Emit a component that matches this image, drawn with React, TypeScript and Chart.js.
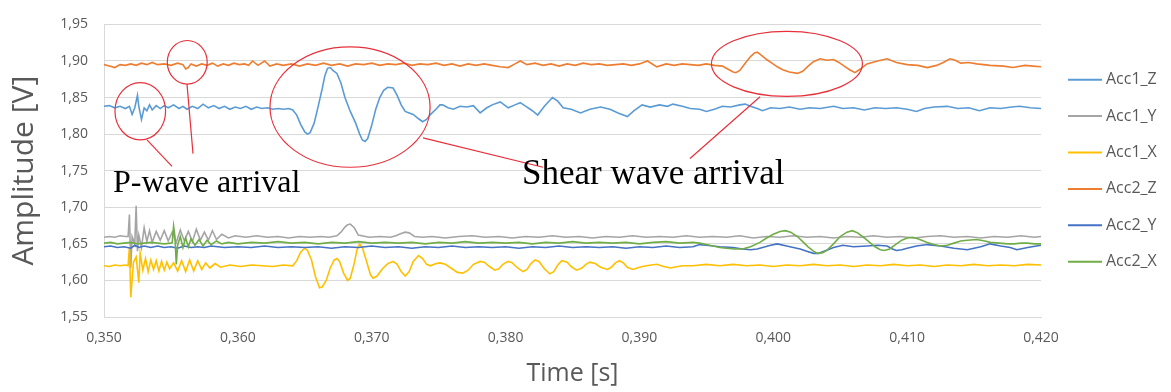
import React, { useEffect, useRef } from 'react';
import { Chart, registerables } from 'chart.js';

Chart.register(...registerables);

// ---------- data ----------
const seriesNames = ['Acc1_Z', 'Acc1_Y', 'Acc1_X', 'Acc2_Z', 'Acc2_Y', 'Acc2_X'];
const seriesColors = ['#5B9BD5', '#A5A5A5', '#FFC000', '#ED7D31', '#4472C4', '#70AD47'];

const xTickMin = 0.35;
const xTickMax = 0.42;
const xTickStep = 0.01;
const yTickMin = 1.55;
const yTickMax = 1.95;
const yTickStep = 0.05;

const acc1ZTime = [0.3500,0.3504,0.3508,0.3512,0.3516,0.3519,0.3521,0.3523,0.3525,0.3526,0.3528,0.3530,0.3532,0.3534,0.3536,0.3539,0.3542,0.3545,0.3548,0.3552,0.3556,0.3559,0.3562,0.3566,0.3570,0.3574,0.3578,0.3582,0.3586,0.3590,0.3594,0.3598,0.3602,0.3606,0.3610,0.3614,0.3618,0.3622,0.3626,0.3630,0.3634,0.3638,0.3641,0.3644,0.3647,0.3650,0.3652,0.3654,0.3657,0.3660,0.3663,0.3665,0.3667,0.3669,0.3671,0.3674,0.3677,0.3680,0.3684,0.3688,0.3691,0.3693,0.3695,0.3697,0.3700,0.3703,0.3706,0.3709,0.3712,0.3716,0.3719,0.3722,0.3725,0.3728,0.3731,0.3735,0.3738,0.3741,0.3744,0.3748,0.3751,0.3753,0.3757,0.3761,0.3766,0.3771,0.3776,0.3781,0.3786,0.3790,0.3796,0.3802,0.3807,0.3811,0.3816,0.3820,0.3824,0.3829,0.3835,0.3839,0.3843,0.3849,0.3856,0.3863,0.3871,0.3878,0.3884,0.3891,0.3896,0.3902,0.3908,0.3915,0.3921,0.3925,0.3932,0.3938,0.3945,0.3950,0.3956,0.3962,0.3968,0.3975,0.3979,0.3983,0.3988,0.3992,0.3998,0.4005,0.4012,0.4020,0.4027,0.4035,0.4045,0.4052,0.4060,0.4068,0.4076,0.4084,0.4092,0.4100,0.4107,0.4113,0.4120,0.4130,0.4138,0.4146,0.4154,0.4162,0.4170,0.4178,0.4184,0.4192,0.4200];
const acc1ZValues = [1.838,1.839,1.836,1.838,1.835,1.838,1.827,1.836,1.853,1.838,1.820,1.836,1.832,1.840,1.833,1.839,1.835,1.839,1.836,1.840,1.835,1.838,1.834,1.838,1.835,1.841,1.836,1.839,1.835,1.838,1.834,1.837,1.835,1.838,1.834,1.837,1.835,1.836,1.834,1.835,1.834,1.835,1.833,1.826,1.813,1.803,1.800,1.802,1.815,1.838,1.862,1.880,1.890,1.891,1.887,1.883,1.870,1.850,1.831,1.815,1.800,1.792,1.790,1.794,1.812,1.834,1.850,1.860,1.864,1.863,1.853,1.840,1.831,1.829,1.827,1.821,1.817,1.820,1.827,1.834,1.840,1.840,1.836,1.834,1.838,1.837,1.839,1.829,1.836,1.840,1.844,1.836,1.840,1.843,1.837,1.832,1.826,1.838,1.850,1.845,1.836,1.834,1.829,1.834,1.837,1.834,1.829,1.824,1.832,1.840,1.837,1.840,1.838,1.841,1.838,1.835,1.834,1.831,1.834,1.838,1.837,1.840,1.841,1.838,1.835,1.832,1.836,1.835,1.837,1.834,1.836,1.835,1.838,1.835,1.836,1.833,1.836,1.835,1.836,1.834,1.831,1.835,1.837,1.838,1.835,1.836,1.832,1.836,1.835,1.837,1.838,1.836,1.835];

const acc1YTime = [0.3500,0.3504,0.3508,0.3512,0.3516,0.3518,0.3519,0.3520,0.3521,0.3523,0.3524,0.3525,0.3526,0.3528,0.3530,0.3532,0.3534,0.3536,0.3539,0.3542,0.3545,0.3548,0.3551,0.3554,0.3557,0.3560,0.3563,0.3566,0.3569,0.3572,0.3575,0.3578,0.3581,0.3584,0.3588,0.3593,0.3598,0.3606,0.3614,0.3622,0.3630,0.3638,0.3646,0.3654,0.3662,0.3668,0.3674,0.3677,0.3680,0.3682,0.3684,0.3687,0.3690,0.3698,0.3706,0.3714,0.3718,0.3722,0.3725,0.3728,0.3732,0.3738,0.3745,0.3755,0.3765,0.3775,0.3785,0.3795,0.3805,0.3815,0.3825,0.3835,0.3845,0.3855,0.3865,0.3875,0.3885,0.3895,0.3905,0.3915,0.3925,0.3935,0.3945,0.3955,0.3965,0.3975,0.3985,0.3995,0.4005,0.4015,0.4025,0.4035,0.4045,0.4055,0.4065,0.4075,0.4085,0.4095,0.4105,0.4115,0.4125,0.4135,0.4145,0.4155,0.4165,0.4175,0.4185,0.4195,0.4200];
const acc1YValues = [1.659,1.660,1.659,1.661,1.660,1.660,1.690,1.617,1.660,1.650,1.702,1.640,1.662,1.645,1.672,1.653,1.668,1.652,1.667,1.655,1.668,1.654,1.666,1.652,1.669,1.654,1.667,1.653,1.670,1.655,1.666,1.655,1.668,1.656,1.663,1.658,1.661,1.659,1.661,1.659,1.660,1.658,1.660,1.659,1.660,1.659,1.661,1.666,1.673,1.676,1.677,1.672,1.662,1.659,1.660,1.659,1.661,1.664,1.666,1.665,1.660,1.659,1.660,1.658,1.660,1.661,1.659,1.660,1.658,1.660,1.659,1.661,1.659,1.660,1.658,1.660,1.659,1.661,1.659,1.660,1.659,1.661,1.659,1.660,1.659,1.661,1.658,1.660,1.659,1.661,1.659,1.660,1.658,1.660,1.659,1.661,1.659,1.660,1.658,1.660,1.661,1.659,1.660,1.658,1.660,1.659,1.661,1.659,1.660];

const acc1XTime = [0.3500,0.3504,0.3508,0.3512,0.3516,0.3518,0.3519,0.3520,0.3522,0.3524,0.3526,0.3527,0.3529,0.3531,0.3533,0.3535,0.3537,0.3539,0.3541,0.3543,0.3545,0.3547,0.3549,0.3552,0.3555,0.3558,0.3561,0.3564,0.3567,0.3570,0.3573,0.3576,0.3579,0.3583,0.3587,0.3594,0.3602,0.3610,0.3618,0.3626,0.3634,0.3641,0.3644,0.3647,0.3650,0.3652,0.3655,0.3658,0.3661,0.3663,0.3666,0.3669,0.3672,0.3674,0.3676,0.3679,0.3682,0.3684,0.3687,0.3689,0.3691,0.3693,0.3696,0.3699,0.3701,0.3704,0.3708,0.3712,0.3716,0.3719,0.3722,0.3725,0.3728,0.3731,0.3735,0.3738,0.3741,0.3744,0.3748,0.3751,0.3755,0.3760,0.3764,0.3768,0.3772,0.3776,0.3781,0.3784,0.3788,0.3792,0.3795,0.3798,0.3802,0.3805,0.3809,0.3813,0.3816,0.3819,0.3822,0.3825,0.3829,0.3833,0.3836,0.3839,0.3842,0.3846,0.3849,0.3853,0.3857,0.3860,0.3863,0.3867,0.3871,0.3876,0.3879,0.3882,0.3885,0.3888,0.3891,0.3895,0.3900,0.3905,0.3913,0.3918,0.3923,0.3932,0.3940,0.3950,0.3960,0.3970,0.3980,0.3990,0.4000,0.4010,0.4020,0.4030,0.4040,0.4050,0.4060,0.4070,0.4080,0.4090,0.4100,0.4110,0.4120,0.4130,0.4140,0.4150,0.4160,0.4170,0.4180,0.4190,0.4200];
const acc1XValues = [1.620,1.619,1.621,1.620,1.621,1.620,1.646,1.577,1.625,1.632,1.597,1.637,1.614,1.630,1.612,1.628,1.615,1.627,1.613,1.626,1.614,1.625,1.616,1.624,1.613,1.627,1.612,1.628,1.613,1.627,1.615,1.624,1.617,1.623,1.618,1.621,1.619,1.621,1.620,1.619,1.621,1.620,1.627,1.639,1.644,1.641,1.628,1.605,1.590,1.591,1.600,1.617,1.628,1.630,1.626,1.610,1.600,1.603,1.624,1.642,1.650,1.645,1.627,1.608,1.603,1.606,1.616,1.623,1.626,1.622,1.612,1.606,1.612,1.626,1.634,1.630,1.622,1.620,1.623,1.624,1.622,1.616,1.611,1.610,1.614,1.622,1.626,1.625,1.619,1.614,1.616,1.622,1.626,1.624,1.617,1.612,1.615,1.623,1.628,1.626,1.616,1.609,1.612,1.621,1.627,1.625,1.619,1.614,1.617,1.622,1.625,1.623,1.618,1.615,1.618,1.624,1.627,1.624,1.618,1.615,1.618,1.620,1.622,1.619,1.617,1.620,1.620,1.622,1.620,1.622,1.620,1.621,1.619,1.621,1.620,1.622,1.620,1.621,1.619,1.621,1.620,1.622,1.620,1.621,1.619,1.621,1.620,1.622,1.620,1.621,1.620,1.622,1.621];

const acc2ZTime = [0.3500,0.3504,0.3508,0.3512,0.3516,0.3520,0.3524,0.3528,0.3532,0.3536,0.3540,0.3545,0.3550,0.3555,0.3559,0.3561,0.3563,0.3565,0.3569,0.3573,0.3577,0.3581,0.3585,0.3589,0.3593,0.3597,0.3601,0.3605,0.3608,0.3611,0.3615,0.3620,0.3624,0.3629,0.3634,0.3640,0.3646,0.3652,0.3658,0.3664,0.3670,0.3676,0.3682,0.3688,0.3694,0.3700,0.3706,0.3712,0.3718,0.3724,0.3730,0.3736,0.3742,0.3748,0.3754,0.3760,0.3766,0.3772,0.3778,0.3784,0.3790,0.3796,0.3802,0.3807,0.3811,0.3816,0.3822,0.3828,0.3834,0.3840,0.3846,0.3852,0.3858,0.3864,0.3870,0.3876,0.3882,0.3888,0.3894,0.3900,0.3906,0.3913,0.3920,0.3926,0.3932,0.3938,0.3944,0.3950,0.3956,0.3962,0.3966,0.3970,0.3972,0.3975,0.3979,0.3983,0.3986,0.3988,0.3991,0.3995,0.3999,0.4003,0.4007,0.4012,0.4018,0.4022,0.4026,0.4030,0.4035,0.4040,0.4045,0.4049,0.4053,0.4057,0.4061,0.4065,0.4070,0.4078,0.4085,0.4092,0.4100,0.4108,0.4115,0.4122,0.4127,0.4132,0.4136,0.4140,0.4146,0.4152,0.4162,0.4172,0.4179,0.4188,0.4194,0.4200];
const acc2ZValues = [1.895,1.893,1.891,1.895,1.894,1.896,1.894,1.897,1.895,1.898,1.895,1.896,1.894,1.897,1.895,1.889,1.891,1.896,1.893,1.896,1.894,1.897,1.893,1.896,1.894,1.897,1.895,1.896,1.894,1.900,1.894,1.900,1.893,1.896,1.894,1.896,1.893,1.896,1.894,1.897,1.894,1.896,1.893,1.896,1.895,1.897,1.894,1.896,1.895,1.897,1.894,1.896,1.895,1.897,1.894,1.896,1.893,1.896,1.894,1.896,1.894,1.892,1.891,1.896,1.900,1.895,1.897,1.894,1.896,1.893,1.896,1.894,1.897,1.895,1.896,1.894,1.895,1.896,1.894,1.896,1.900,1.892,1.896,1.894,1.896,1.895,1.894,1.896,1.894,1.893,1.889,1.885,1.884,1.887,1.897,1.906,1.911,1.912,1.908,1.902,1.897,1.892,1.888,1.885,1.883,1.886,1.893,1.899,1.903,1.901,1.902,1.898,1.893,1.888,1.884,1.889,1.896,1.900,1.903,1.898,1.895,1.894,1.891,1.894,1.898,1.903,1.901,1.897,1.898,1.896,1.894,1.893,1.891,1.894,1.893,1.892];

const acc2YTime = [0.3500,0.3505,0.3510,0.3515,0.3520,0.3523,0.3526,0.3530,0.3535,0.3540,0.3545,0.3550,0.3555,0.3560,0.3565,0.3570,0.3575,0.3580,0.3590,0.3600,0.3610,0.3620,0.3630,0.3640,0.3650,0.3660,0.3670,0.3680,0.3690,0.3700,0.3710,0.3720,0.3730,0.3740,0.3750,0.3760,0.3770,0.3780,0.3790,0.3800,0.3810,0.3820,0.3830,0.3840,0.3850,0.3860,0.3870,0.3880,0.3890,0.3900,0.3910,0.3920,0.3930,0.3940,0.3945,0.3950,0.3960,0.3970,0.3977,0.3983,0.3988,0.3992,0.3998,0.4003,0.4010,0.4015,0.4020,0.4025,0.4030,0.4034,0.4038,0.4045,0.4052,0.4060,0.4070,0.4078,0.4085,0.4089,0.4092,0.4096,0.4100,0.4107,0.4115,0.4125,0.4135,0.4145,0.4155,0.4162,0.4170,0.4177,0.4182,0.4190,0.4200];
const acc2YValues = [1.646,1.647,1.645,1.646,1.644,1.648,1.645,1.647,1.645,1.647,1.645,1.646,1.644,1.647,1.645,1.646,1.645,1.647,1.645,1.646,1.645,1.647,1.645,1.646,1.645,1.646,1.644,1.646,1.645,1.647,1.645,1.646,1.644,1.646,1.645,1.647,1.645,1.646,1.645,1.646,1.644,1.646,1.645,1.647,1.645,1.646,1.645,1.646,1.644,1.646,1.645,1.647,1.645,1.646,1.649,1.648,1.646,1.645,1.643,1.642,1.643,1.645,1.648,1.650,1.647,1.645,1.643,1.640,1.637,1.637,1.640,1.645,1.648,1.646,1.647,1.648,1.647,1.643,1.641,1.642,1.644,1.647,1.649,1.647,1.644,1.642,1.646,1.650,1.647,1.645,1.642,1.645,1.648];

const acc2XTime = [0.3500,0.3505,0.3510,0.3515,0.3520,0.3525,0.3530,0.3535,0.3540,0.3545,0.3550,0.3551,0.3552,0.3553,0.3554,0.3555,0.3557,0.3559,0.3561,0.3563,0.3565,0.3568,0.3571,0.3574,0.3577,0.3580,0.3584,0.3588,0.3593,0.3600,0.3610,0.3620,0.3630,0.3640,0.3650,0.3660,0.3670,0.3680,0.3690,0.3700,0.3710,0.3720,0.3730,0.3740,0.3750,0.3760,0.3770,0.3780,0.3790,0.3800,0.3810,0.3820,0.3830,0.3840,0.3850,0.3860,0.3870,0.3880,0.3890,0.3900,0.3910,0.3920,0.3930,0.3940,0.3945,0.3950,0.3955,0.3960,0.3965,0.3971,0.3977,0.3983,0.3990,0.3995,0.4000,0.4005,0.4009,0.4013,0.4018,0.4022,0.4026,0.4030,0.4033,0.4037,0.4040,0.4045,0.4050,0.4055,0.4059,0.4063,0.4068,0.4072,0.4076,0.4080,0.4083,0.4087,0.4092,0.4096,0.4100,0.4104,0.4108,0.4115,0.4120,0.4125,0.4130,0.4135,0.4140,0.4145,0.4152,0.4158,0.4162,0.4169,0.4175,0.4180,0.4185,0.4190,0.4195,0.4200];
const acc2XValues = [1.651,1.652,1.650,1.651,1.652,1.650,1.651,1.652,1.651,1.650,1.651,1.652,1.674,1.660,1.622,1.648,1.660,1.645,1.658,1.646,1.657,1.648,1.656,1.647,1.655,1.649,1.654,1.650,1.652,1.650,1.652,1.651,1.653,1.651,1.652,1.650,1.652,1.651,1.653,1.651,1.652,1.651,1.652,1.650,1.652,1.651,1.653,1.651,1.652,1.651,1.652,1.650,1.652,1.651,1.653,1.651,1.652,1.651,1.652,1.650,1.652,1.653,1.651,1.652,1.651,1.649,1.647,1.645,1.644,1.643,1.643,1.646,1.652,1.658,1.663,1.667,1.668,1.666,1.660,1.653,1.646,1.640,1.637,1.638,1.641,1.650,1.660,1.666,1.668,1.665,1.658,1.652,1.646,1.642,1.641,1.643,1.650,1.655,1.658,1.659,1.657,1.652,1.649,1.647,1.648,1.651,1.654,1.655,1.656,1.654,1.652,1.651,1.650,1.650,1.651,1.651,1.650,1.650];

const seriesTimes = [acc1ZTime, acc1YTime, acc1XTime, acc2ZTime, acc2YTime, acc2XTime];
const seriesValues = [acc1ZValues, acc1YValues, acc1XValues, acc2ZValues, acc2YValues, acc2XValues];

// Callouts (in data units: time [s], amplitude [V])
const calloutEllipses = [
  { t: 0.35271, v: 1.8313, rt: 0.00189, rv: 0.0392 },
  { t: 0.35622, v: 1.8982, rt: 0.00149, rv: 0.0298 },
  { t: 0.36838, v: 1.8370, rt: 0.00598, rv: 0.0823 },
  { t: 0.40102, v: 1.8961, rt: 0.00564, rv: 0.0445 },
];
const calloutLines = [
  { t1: 0.35321, v1: 1.7921, t2: 0.35508, v2: 1.7560 },
  { t1: 0.35620, v1: 1.8684, t2: 0.35665, v2: 1.7734 },
  { t1: 0.37383, v1: 1.7948, t2: 0.38280, v2: 1.7547 },
  { t1: 0.39901, v1: 1.8510, t2: 0.39378, v2: 1.7667 },
];
const calloutTexts = [
  { text: 'P-wave arrival', t: 0.35067, v: 1.7213, size: 32 },
  { text: 'Shear wave arrival', t: 0.38123, v: 1.7320, size: 35 },
];

const fmt = (v: number, d: number) => v.toFixed(d).replace('.', ',');

const overlayPlugin = {
  id: 'overlay',
  afterDraw(chart: any) {
    const { ctx, chartArea } = chart;
    const xs = chart.scales.x;
    const ys = chart.scales.y;
    ctx.save();
    ctx.strokeStyle = '#E8303A';
    ctx.lineWidth = 1.2;
    calloutEllipses.forEach((e) => {
      const cx = xs.getPixelForValue(e.t);
      const cy = ys.getPixelForValue(e.v);
      const rx = xs.getPixelForValue(e.t + e.rt) - cx;
      const ry = cy - ys.getPixelForValue(e.v + e.rv);
      ctx.beginPath();
      ctx.ellipse(cx, cy, rx, ry, 0, 0, Math.PI * 2);
      ctx.stroke();
    });
    calloutLines.forEach((l) => {
      ctx.beginPath();
      ctx.moveTo(xs.getPixelForValue(l.t1), ys.getPixelForValue(l.v1));
      ctx.lineTo(xs.getPixelForValue(l.t2), ys.getPixelForValue(l.v2));
      ctx.stroke();
    });
    ctx.fillStyle = '#000000';
    ctx.textBaseline = 'alphabetic';
    ctx.textAlign = 'left';
    calloutTexts.forEach((c) => {
      ctx.font = `${c.size}px "Liberation Serif", "Times New Roman", serif`;
      ctx.fillText(c.text, xs.getPixelForValue(c.t), ys.getPixelForValue(c.v));
    });
    // legend
    const mid = (chartArea.top + chartArea.bottom) / 2;
    const step = 36.4;
    ctx.font = '16px "Open Sans", sans-serif';
    ctx.textBaseline = 'middle';
    chart.data.datasets.forEach((ds: any, i: number) => {
      const y = mid + (i - (chart.data.datasets.length - 1) / 2) * step;
      const x0 = chartArea.right + 27;
      ctx.strokeStyle = ds.borderColor;
      ctx.lineWidth = 2;
      ctx.beginPath();
      ctx.moveTo(x0, y);
      ctx.lineTo(x0 + 34, y);
      ctx.stroke();
      ctx.fillStyle = '#595959';
      ctx.fillText(ds.label, x0 + 38, y);
    });
    ctx.restore();
  },
};

export default function App() {
  const canvasRef = useRef<HTMLCanvasElement | null>(null);

  useEffect(() => {
    if (!canvasRef.current) return;
    const datasets = seriesNames.map((name, i) => ({
      label: name,
      data: seriesTimes[i].map((t, j) => ({ x: t, y: seriesValues[i][j] })),
      borderColor: seriesColors[i],
      backgroundColor: seriesColors[i],
      borderWidth: 1.6,
      pointRadius: 0,
      tension: 0,
      fill: false,
      order: seriesNames.length - i,
    }));
    const chart = new Chart(canvasRef.current, {
      type: 'line',
      data: { datasets },
      options: {
        animation: false,
        responsive: true,
        maintainAspectRatio: false,
        layout: { padding: { left: 0, right: 130, top: 18, bottom: 0 } },
        plugins: { legend: { display: false }, tooltip: { enabled: false } },
        scales: {
          x: {
            type: 'linear',
            min: xTickMin,
            max: xTickMax,
            afterFit: (s: any) => { s.height = 75; },
            ticks: {
              stepSize: xTickStep,
              color: '#595959',
              font: { family: '"Open Sans", sans-serif', size: 14 },
              padding: 13,
              maxRotation: 0,
              callback: (v: any) => fmt(Number(v), 3),
            },
            grid: { color: 'rgba(0,0,0,0)', drawTicks: false },
            border: { color: '#D9D9D9', width: 1 },
            title: {
              display: true,
              text: 'Time [s]',
              color: '#595959',
              font: { family: '"Open Sans", sans-serif', size: 25 },
              padding: { top: 0, bottom: 3 },
            },
          },
          y: {
            type: 'linear',
            min: yTickMin,
            max: yTickMax,
            afterFit: (s: any) => { s.width = 104; },
            ticks: {
              stepSize: yTickStep,
              color: '#595959',
              font: { family: '"Open Sans", sans-serif', size: 14 },
              padding: 16,
              callback: (v: any) => fmt(Number(v), 2),
            },
            grid: { color: '#D9D9D9', drawTicks: false },
            border: { color: '#D9D9D9', width: 1 },
            title: {
              display: true,
              text: 'Amplitude [V]',
              color: '#595959',
              font: { family: '"Open Sans", sans-serif', size: 30 },
              padding: { top: 6, bottom: 0 },
            },
          },
        },
      },
      plugins: [overlayPlugin],
    });
    return () => chart.destroy();
  }, []);

  return (
    <div style={{ position: 'fixed', left: 0, top: 0, width: 1171, height: 392, background: '#ffffff' }}>
      <canvas ref={canvasRef} />
    </div>
  );
}
